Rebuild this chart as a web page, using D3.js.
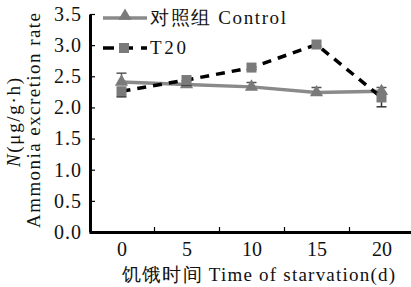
<!DOCTYPE html>
<html>
<head>
<meta charset="utf-8">
<script src="https://cdn.jsdelivr.net/npm/d3@7"></script>
<style>
  body { margin: 0; background: #fff; }
  svg { display: block; font-family: "Liberation Serif", "Times New Roman", serif; }
  .axis path, .axis line { stroke: #000; }
</style>
</head>
<body>
<svg id="chart" width="411" height="287"></svg>
<script>
// Dades
const days = [0, 5, 10, 15, 20];
const controlValues = [2.41, 2.37, 2.33, 2.24, 2.26];
const controlErr = [0.14, 0.06, 0.07, 0.08, 0.06];
const t20Values = [2.26, 2.44, 2.64, 3.01, 2.16];
const t20Err = [0.09, 0.08, 0.03, 0.03, 0.15];
const yTicks = [0, 0.5, 1.0, 1.5, 2.0, 2.5, 3.0, 3.5];
const seriesNames = ["对照组 Control", "T20"];

const svg = d3.select("#chart");

// Escales
const x = d3.scaleLinear().domain([-2.5, 22.5]).range([89, 414]);
const y = d3.scaleLinear().domain([0, 3.5]).range([232, 14]);

// Eix Y
svg.append("g")
    .attr("class", "axis")
    .attr("transform", "translate(90,0)")
    .call(d3.axisLeft(y).tickValues(yTicks).tickFormat(d3.format(".1f"))
        .tickSizeInner(-5).tickSizeOuter(0).tickPadding(8))
    .call(g => g.select(".domain").attr("stroke-width", 3))
    .call(g => g.selectAll("line").attr("stroke-width", 1.2))
    .call(g => g.selectAll("text").attr("font-size", "20px")
        .attr("font-family", "Liberation Serif").attr("fill", "#111")
        .attr("letter-spacing", "1px"));

// Eix X (etiquetes)
svg.append("g")
    .attr("class", "axis")
    .attr("transform", "translate(0,232)")
    .call(d3.axisBottom(x).tickValues(days).tickSize(0).tickPadding(10))
    .call(g => g.select(".domain").attr("stroke-width", 3))
    .call(g => g.selectAll("text").attr("font-size", "20px")
        .attr("font-family", "Liberation Serif").attr("fill", "#111"));

// Eix X (marques entre categories)
svg.append("g")
    .attr("class", "axis")
    .attr("transform", "translate(0,232)")
    .call(d3.axisBottom(x).tickValues([2.5, 7.5, 12.5, 17.5]).tickFormat("")
        .tickSizeInner(-5).tickSizeOuter(0))
    .call(g => g.select(".domain").remove())
    .call(g => g.selectAll("line").attr("stroke-width", 1.2));

// Títols dels eixos
svg.append("text")
    .attr("x", 122).attr("y", 281)
    .attr("font-size", "19px")
    .attr("fill", "#111")
    .attr("textLength", 273)
    .attr("lengthAdjust", "spacing")
    .text("饥饿时间 Time of starvation(d)");

svg.append("text")
    .attr("transform", "translate(40,228) rotate(-90)")
    .attr("font-size", "19px")
    .attr("fill", "#111")
    .attr("textLength", 215)
    .attr("lengthAdjust", "spacing")
    .text("Ammonia excretion rate");

const nLabel = svg.append("text")
    .attr("transform", "translate(20,167) rotate(-90)")
    .attr("font-size", "19px")
    .attr("fill", "#111")
    .attr("textLength", 89)
    .attr("lengthAdjust", "spacing");
nLabel.append("tspan").attr("font-style", "italic").text("N");
nLabel.append("tspan").text("(μg/g·h)");

// Funció per dibuixar barres d'error
function errorBars(vals, errs, up, color) {
    const g = svg.append("g").attr("stroke", color).attr("stroke-width", 1.5);
    days.forEach((d, i) => {
        const y0 = y(vals[i]);
        const y1 = y(vals[i] + (up ? errs[i] : -errs[i]));
        g.append("line").attr("x1", x(d)).attr("x2", x(d)).attr("y1", y0).attr("y2", y1);
        g.append("line").attr("x1", x(d) - 5).attr("x2", x(d) + 5).attr("y1", y1).attr("y2", y1);
    });
}

const line = d3.line().x((d, i) => x(days[i])).y(d => y(d));

// Control
errorBars(controlValues, controlErr, true, "#555");
svg.append("path")
    .datum(controlValues)
    .attr("d", line)
    .attr("fill", "none")
    .attr("stroke", "#8a8a8a")
    .attr("stroke-width", 3.5);

const tri = d3.symbol().type(d3.symbolTriangle).size(75);
svg.selectAll(".tri")
    .data(controlValues)
    .enter()
    .append("path")
    .attr("class", "tri")
    .attr("d", tri)
    .attr("transform", (d, i) => `translate(${x(days[i])},${y(d)})`)
    .attr("fill", "#7a7a7a");

// T20
errorBars(t20Values, t20Err, false, "#333");
svg.append("path")
    .datum(t20Values)
    .attr("d", line)
    .attr("fill", "none")
    .attr("stroke", "#000")
    .attr("stroke-width", 3.5)
    .attr("stroke-dasharray", "9,7");

svg.selectAll(".sq")
    .data(t20Values)
    .enter()
    .append("rect")
    .attr("class", "sq")
    .attr("x", (d, i) => x(days[i]) - 5)
    .attr("y", d => y(d) - 5)
    .attr("width", 10)
    .attr("height", 10)
    .attr("fill", "#7a7a7a");

// Llegenda
const legend = svg.append("g");
legend.append("line")
    .attr("x1", 103).attr("x2", 147).attr("y1", 18).attr("y2", 18)
    .attr("stroke", "#8a8a8a").attr("stroke-width", 3.5);
legend.append("path")
    .attr("d", tri).attr("transform", "translate(125,16)").attr("fill", "#7a7a7a");
legend.append("line")
    .attr("x1", 103).attr("x2", 147).attr("y1", 48).attr("y2", 48)
    .attr("stroke", "#000").attr("stroke-width", 3.5).attr("stroke-dasharray", "11,8");
legend.append("rect")
    .attr("x", 119).attr("y", 43).attr("width", 10).attr("height", 10).attr("fill", "#7a7a7a");

const legendWidths = [136, 36];
seriesNames.forEach((name, i) => {
    legend.append("text")
        .attr("x", 150).attr("y", 24 + i * 30)
        .attr("font-size", "19px")
        .attr("fill", "#111")
        .attr("textLength", legendWidths[i])
        .attr("lengthAdjust", "spacing")
        .text(name);
});
</script>
</body>
</html>
